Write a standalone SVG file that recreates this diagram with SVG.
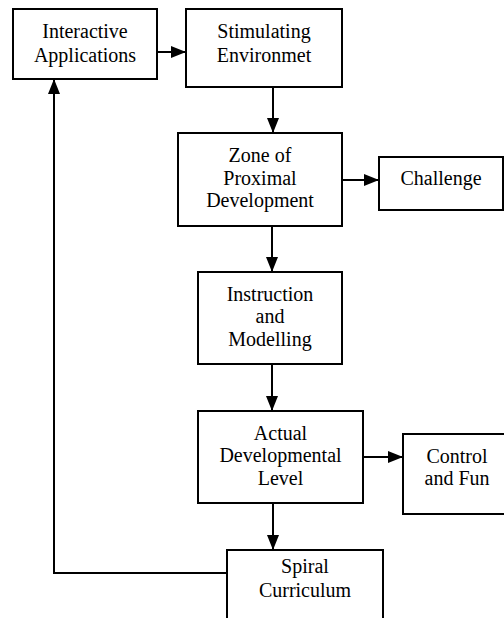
<svg xmlns="http://www.w3.org/2000/svg" width="504" height="618" viewBox="0 0 504 618">
  <style>
    .box { fill: #ffffff; stroke: #000000; stroke-width: 2; }
    .lbl { font-family: 'Liberation Serif', 'Times New Roman', serif; font-size: 20px; fill: #000000; text-anchor: middle; }
    .conn { fill: none; stroke: #000000; stroke-width: 2; }
  </style>
  <defs>
    <marker id="arrow" markerUnits="userSpaceOnUse" markerWidth="15" markerHeight="12" viewBox="0 0 15 12" refX="15" refY="6" orient="auto">
      <path d="M0,0 L15,6 L0,12 z" fill="#000000"/>
    </marker>
  </defs>
  <rect width="504" height="618" fill="#ffffff"/>

  <g id="connectors">
    <line class="conn" x1="157" y1="52" x2="186" y2="52" marker-end="url(#arrow)"/>
    <line class="conn" x1="273" y1="87" x2="273" y2="133" marker-end="url(#arrow)"/>
    <line class="conn" x1="342" y1="180" x2="379" y2="180" marker-end="url(#arrow)"/>
    <line class="conn" x1="272" y1="226" x2="272" y2="272" marker-end="url(#arrow)"/>
    <line class="conn" x1="272" y1="364" x2="272" y2="411" marker-end="url(#arrow)"/>
    <line class="conn" x1="363" y1="457" x2="403" y2="457" marker-end="url(#arrow)"/>
    <line class="conn" x1="273" y1="503" x2="273" y2="550" marker-end="url(#arrow)"/>
    <polyline class="conn" points="227,573 54,573 54,79" marker-end="url(#arrow)"/>
  </g>

  <g id="interactive">
    <rect class="box" x="13" y="9" width="144" height="70"/>
    <text class="lbl" x="85" y="38">Interactive</text>
    <text class="lbl" x="85" y="62">Applications</text>
  </g>
  <g id="stimulating">
    <rect class="box" x="186" y="9" width="156" height="78"/>
    <text class="lbl" x="264" y="38">Stimulating</text>
    <text class="lbl" x="264" y="62">Environmet</text>
  </g>
  <g id="zpd">
    <rect class="box" x="178" y="133" width="164" height="93"/>
    <text class="lbl" x="260" y="162">Zone of</text>
    <text class="lbl" x="260" y="185">Proximal</text>
    <text class="lbl" x="260" y="207">Development</text>
  </g>
  <g id="challenge">
    <rect class="box" x="379" y="157" width="124" height="53"/>
    <text class="lbl" x="441" y="185">Challenge</text>
  </g>
  <g id="instruction">
    <rect class="box" x="198" y="272" width="144" height="92"/>
    <text class="lbl" x="270" y="301">Instruction</text>
    <text class="lbl" x="270" y="323">and</text>
    <text class="lbl" x="270" y="346">Modelling</text>
  </g>
  <g id="actual">
    <rect class="box" x="198" y="411" width="165" height="92"/>
    <text class="lbl" x="280.5" y="440">Actual</text>
    <text class="lbl" x="280.5" y="462">Developmental</text>
    <text class="lbl" x="280.5" y="485">Level</text>
  </g>
  <g id="control">
    <rect class="box" x="403" y="434" width="108" height="80"/>
    <text class="lbl" x="457" y="463">Control</text>
    <text class="lbl" x="457" y="485">and Fun</text>
  </g>
  <g id="spiral">
    <rect class="box" x="227" y="550" width="156" height="80"/>
    <text class="lbl" x="305" y="573">Spiral</text>
    <text class="lbl" x="305" y="597">Curriculum</text>
  </g>
</svg>
